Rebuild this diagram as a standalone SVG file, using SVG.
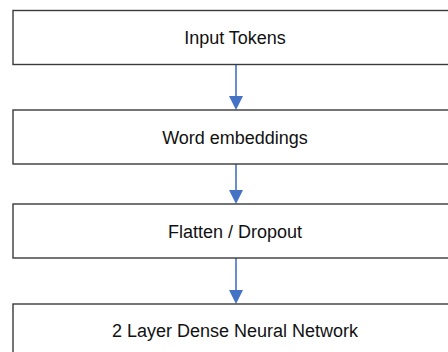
<svg xmlns="http://www.w3.org/2000/svg" width="448" height="352" viewBox="0 0 448 352">
<style>
.box{fill:#fff;stroke:#3a3a3a;stroke-width:1.4}
.lbl{font-family:"Liberation Sans",Arial,sans-serif;font-size:18px;fill:#111;text-anchor:middle}
.con{stroke:#4472C4;stroke-width:1.6;fill:none}
.head{fill:#4472C4}
</style>
<rect width="448" height="352" fill="#fff"/>
<g id="connectors">
<line class="con" x1="236" y1="64" x2="236" y2="98"/>
<polygon class="head" points="229,96 243,96 236,110"/>
<line class="con" x1="236" y1="164" x2="236" y2="192"/>
<polygon class="head" points="229,190 243,190 236,204"/>
<line class="con" x1="236" y1="258" x2="236" y2="292"/>
<polygon class="head" points="229,290 243,290 236,304"/>
</g>
<g id="node-input">
<rect class="box" x="13" y="10.5" width="450" height="54"/>
<text class="lbl" x="235" y="44">Input Tokens</text>
</g>
<g id="node-embed">
<rect class="box" x="13" y="110" width="450" height="54"/>
<text class="lbl" x="235" y="144">Word embeddings</text>
</g>
<g id="node-flatten">
<rect class="box" x="13" y="204" width="450" height="54"/>
<text class="lbl" x="235" y="238">Flatten / Dropout</text>
</g>
<g id="node-dense">
<rect class="box" x="13" y="304" width="450" height="60"/>
<text class="lbl" x="235" y="337">2 Layer Dense Neural Network</text>
</g>
</svg>
